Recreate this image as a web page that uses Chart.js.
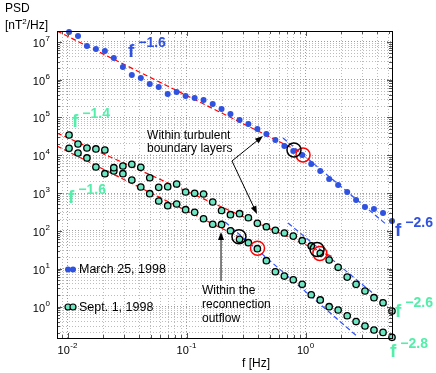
<!DOCTYPE html>
<html>
<head>
<meta charset="utf-8">
<script src="https://cdn.jsdelivr.net/npm/chart.js@4/dist/chart.umd.min.js"></script>
<style>
html, body { margin: 0; padding: 0; background: #fff; }
#wrap { width: 436px; height: 373px; }
</style>
</head>
<body>
<div id="wrap"><canvas id="psd" width="436" height="373"></canvas></div>
<script>
// frequency bins [Hz], shared by all spectra (quarter-octave steps)
const freqs = [0.0103, 0.01225, 0.01456, 0.01733, 0.0206, 0.0245, 0.0292, 0.0347, 0.0413, 0.0491,
  0.0584, 0.0695, 0.0826, 0.0983, 0.117, 0.139, 0.166, 0.197, 0.234, 0.279,
  0.331, 0.394, 0.469, 0.558, 0.664, 0.789, 0.938, 1.117, 1.33, 1.58,
  1.88, 2.24, 2.66, 3.16, 3.76, 4.48, 5.33];

// PSD [nT^2/Hz]
const psdMarch25 = [1.83e7, 1.43e7, 7.8e6, 6.5e6, 5.7e6, 3.75e6, 2.17e6, 1.33e6, 1.11e6, 7.7e5,
  6.4e5, 4.19e5, 4.73e5, 3.71e5, 3.28e5, 2.90e5, 2.28e5, 1.68e5, 1.24e5, 8.6e4,
  6.7e4, 4.97e4, 3.66e4, 2.54e4, 1.76e4, 1.30e4, 1.02e4, 5.9e3, 3.85e3, 2.36e3,
  1.64e3, 1.07e3, 656, 429, 379, 298, 183];
const psdSept1Upper = [3.44e4, 1.99e4, 1.56e4, 1.47e4, 1.38e4, 4.70e3, 5.21e3, 5.78e3, 4.82e3, 2.55e3,
  1.42e3, 1.48e3, 1.74e3, 1.07e3, 988, 946, 582, 347, 268, 285,
  223, 159, 129, 104, 88, 73, 55, 40, 25.5, 17.0,
  10.9, 6.0, 3.86, 2.57, 1.71, 1.26, 0.76];
const psdSept1Lower = [1.53e4, 1.15e4, 8.5e3, 4.90e3, 3.26e3, 3.85e3, 3.26e3, 2.22e3, 1.45e3, 964,
  618, 464, 515, 364, 310, 210, 150, 148, 101, 60,
  48.8, 33.8, 16.3, 8.3, 6.4, 5.1, 3.87, 2.05, 1.49, 0.99,
  0.81, 0.57, 0.40, 0.305, 0.239, 0.207, 0.153];

// power-law fits (end points)
const fitMarchLowF = [0.00816, 0.935],  fitMarchLowP = [1.94e7, 1.15e4];
const fitMarchHighF = [0.647, 4.84],    fitMarchHighP = [2.87e4, 143];
const fitUpperLowF = [0.00816, 1.70],   fitUpperLowP = [3.89e4, 20.4];
const fitUpperHighF = [0.713, 4.84],    fitUpperHighP = [162, 1.10];
const fitLowerLowF = [0.00816, 0.310],  fitLowerLowP = [1.76e4, 57.4];
const fitLowerHighF = [0.211, 2.76],    fitLowerHighP = [172, 0.156];

// highlighted points (rings)
const blackRingF = [0.80, 0.276, 1.25],  blackRingP = [1.38e4, 70, 32.2];
const redRingF = [0.953, 0.395, 1.32],   redRingP = [1.02e4, 34.7, 25.2];

// slope labels
const slopeExp = ['\u22121.6', '\u22121.4', '\u22121.6', '\u22122.6', '\u22122.6', '\u22122.8'];
const slopeF = [0.0322, 0.0109, 0.0101, 5.65, 5.65, 5.13];
const slopeP = [4.0e6, 5.6e4, 547, 73, 0.53, 0.046];
const slopeSeries = ['march', 'sept', 'sept', 'march', 'sept', 'sept'];

const legendLabels = ['March 25, 1998', 'Sept. 1, 1998'];
const xTitle = 'f [Hz]';
const yTitle = ['PSD', '[nT', '2', '/Hz]'];
const xRange = [0.00816, 5.33];
const yRange = [0.147, 1.94e7];

const BLUE = '#2f52e0';
const GREEN = '#6ee6c2';
const GREEN_TXT = '#52eeaa';
const FONT = '"Liberation Sans", Arial, Helvetica, sans-serif';

function pts(xs, ys) {
    return xs.map((v, i) => ({x: v, y: ys[i]}));
}

function logTicks(min, max) {
    const out = [];
    for (let e = Math.floor(Math.log10(min)); e <= Math.ceil(Math.log10(max)); e++) {
        for (let m = 1; m <= 9; m++) {
            const v = m * Math.pow(10, e);
            if (v >= min && v <= max) out.push({value: v, major: m === 1});
        }
    }
    return out;
}

function fitLine(xs, ys, color) {
    return {
        data: pts(xs, ys), showLine: true, borderColor: color, borderWidth: 1.2,
        borderDash: [5, 3], pointRadius: 0, fill: false, order: 3
    };
}

function ring(xs, ys, color) {
    return {
        data: pts(xs, ys), pointRadius: 7, pointBorderWidth: 1.5,
        pointBorderColor: color, pointBackgroundColor: 'rgba(0,0,0,0)', clip: false, order: 1
    };
}

// "10^n" / "f^-1.6" style text
function powerText(ctx, base, exp, x, y, o) {
    ctx.font = o.baseFont;
    const wb = ctx.measureText(base).width;
    ctx.font = o.expFont;
    const we = ctx.measureText(exp).width;
    const w = wb + o.gap + we;
    let left = x;
    if (o.align === 'center') left = x - w / 2;
    else if (o.align === 'right') left = x - w;
    ctx.fillStyle = o.color;
    ctx.textAlign = 'left';
    ctx.textBaseline = 'alphabetic';
    ctx.font = o.baseFont;
    ctx.fillText(base, left, y);
    ctx.font = o.expFont;
    ctx.fillText(exp, left + wb + o.gap, y - o.rise);
}

function arrow(ctx, x1, y1, x2, y2) {
    const ang = Math.atan2(y2 - y1, x2 - x1);
    ctx.beginPath();
    ctx.moveTo(x1, y1);
    ctx.lineTo(x2 - 5 * Math.cos(ang), y2 - 5 * Math.sin(ang));
    ctx.stroke();
    ctx.beginPath();
    ctx.moveTo(x2, y2);
    ctx.lineTo(x2 - 8 * Math.cos(ang) + 3 * Math.sin(ang), y2 - 8 * Math.sin(ang) - 3 * Math.cos(ang));
    ctx.lineTo(x2 - 8 * Math.cos(ang) - 3 * Math.sin(ang), y2 - 8 * Math.sin(ang) + 3 * Math.cos(ang));
    ctx.closePath();
    ctx.fill();
}

const decor = {
    id: 'decor',
    afterDraw(chart) {
        const {ctx, chartArea: a, scales: {x, y}} = chart;
        ctx.save();

        // inward tick marks
        ctx.strokeStyle = '#555';
        ctx.lineWidth = 1;
        ctx.beginPath();
        x.ticks.forEach(t => {
            const px = Math.round(x.getPixelForValue(t.value)) + 0.5;
            const len = t.major ? 5 : 3;
            ctx.moveTo(px, a.bottom); ctx.lineTo(px, a.bottom - len);
            ctx.moveTo(px, a.top); ctx.lineTo(px, a.top + len);
        });
        y.ticks.forEach(t => {
            const py = Math.round(y.getPixelForValue(t.value)) + 0.5;
            const len = t.major ? 5 : 3;
            ctx.moveTo(a.left, py); ctx.lineTo(a.left + len, py);
            ctx.moveTo(a.right, py); ctx.lineTo(a.right - len, py);
        });
        ctx.stroke();

        // axes box
        ctx.strokeStyle = '#000';
        ctx.strokeRect(Math.round(a.left) + 0.5, Math.round(a.top) + 0.5,
            Math.round(a.width), Math.round(a.height));

        // tick labels
        const tickOpt = {baseFont: '11px ' + FONT, expFont: '8px ' + FONT, gap: 0.5, rise: 6.5, color: '#000'};
        x.ticks.filter(t => t.major).forEach(t => {
            const e = Math.round(Math.log10(t.value));
            powerText(ctx, '10', String(e), x.getPixelForValue(t.value), a.bottom + 16,
                Object.assign({align: 'center'}, tickOpt));
        });
        y.ticks.filter(t => t.major).forEach(t => {
            const e = Math.round(Math.log10(t.value));
            powerText(ctx, '10', String(e), a.left - 7, y.getPixelForValue(t.value) + 5,
                Object.assign({align: 'right'}, tickOpt, {rise: 6}));
        });

        // axis titles
        ctx.fillStyle = '#000';
        ctx.textAlign = 'center';
        ctx.font = '12px ' + FONT;
        ctx.fillText(xTitle, a.left + 199, 367);
        ctx.textAlign = 'left';
        ctx.fillText(yTitle[0], 5, 12);
        let tx = 5;
        ctx.fillText(yTitle[1], tx, 29);
        tx += ctx.measureText(yTitle[1]).width;
        ctx.font = '8px ' + FONT;
        ctx.fillText(yTitle[2], tx, 24);
        tx += ctx.measureText(yTitle[2]).width;
        ctx.font = '12px ' + FONT;
        ctx.fillText(yTitle[3], tx, 29);

        // slope labels
        slopeExp.forEach((ex, i) => {
            powerText(ctx, 'f', ex, x.getPixelForValue(slopeF[i]), y.getPixelForValue(slopeP[i]), {
                baseFont: 'bold 19px ' + FONT, expFont: 'bold 14px ' + FONT, gap: 4, rise: 9.5,
                color: slopeSeries[i] === 'march' ? BLUE : GREEN_TXT, align: 'left'
            });
        });

        // annotations
        ctx.fillStyle = '#000';
        ctx.strokeStyle = '#000';
        ctx.lineWidth = 1;
        ctx.font = '12px ' + FONT;
        ctx.textAlign = 'left';
        const t1x = x.getPixelForValue(0.0466), t1y = y.getPixelForValue(2.7e4);
        ctx.fillText('Within turbulent', t1x, t1y);
        ctx.fillText('boundary layers', t1x, t1y + 13);
        const t2x = x.getPixelForValue(0.135), t2y = y.getPixelForValue(2.08);
        ctx.fillText('Within the', t2x, t2y);
        ctx.fillText('reconnection', t2x, t2y + 14);
        ctx.fillText('outflow', t2x, t2y + 28);

        const ax = x.getPixelForValue(0.241), ay = y.getPixelForValue(7.07e3);
        arrow(ctx, ax, ay, x.getPixelForValue(0.439), y.getPixelForValue(3.24e4));
        arrow(ctx, ax, ay, x.getPixelForValue(0.391), y.getPixelForValue(280));
        const bx = x.getPixelForValue(0.195);
        arrow(ctx, bx, y.getPixelForValue(4.73), bx, y.getPixelForValue(93.5));

        // legend inside the axes
        const rows = [{label: legendLabels[0], fill: BLUE, edge: null, dy: 238.5},
                      {label: legendLabels[1], fill: GREEN, edge: '#000', dy: 276}];
        rows.forEach(r => {
            const ry = a.top + r.dy;
            [a.left + 11, a.left + 16].forEach(cx => {
                ctx.beginPath();
                ctx.arc(cx, ry, 3, 0, Math.PI * 2);
                ctx.fillStyle = r.fill;
                ctx.fill();
                if (r.edge) { ctx.strokeStyle = r.edge; ctx.lineWidth = 1.2; ctx.stroke(); }
            });
            ctx.fillStyle = '#000';
            ctx.font = '12.5px ' + FONT;
            ctx.textBaseline = 'middle';
            ctx.fillText(r.label, a.left + 22, ry + 0.5);
            ctx.textBaseline = 'alphabetic';
        });

        ctx.restore();
    }
};

const gridOpts = {
    drawTicks: false,
    lineWidth: 1,
    color: c => (c.tick && c.tick.major) ? '#9c9c9c' : '#bcbcbc',
    borderDash: [1, 2]
};

new Chart(document.getElementById('psd'), {
    type: 'scatter',
    data: {
        datasets: [
            ring(blackRingF, blackRingP, '#000'),
            ring(redRingF, redRingP, '#f00'),
            {
                label: legendLabels[0], data: pts(freqs, psdMarch25), pointRadius: 3,
                pointBackgroundColor: BLUE, pointBorderWidth: 0, clip: false, order: 2
            },
            {
                label: legendLabels[1], data: pts(freqs, psdSept1Upper), pointRadius: 3.2,
                pointBackgroundColor: GREEN, pointBorderColor: '#000', pointBorderWidth: 1.3, clip: false, order: 2
            },
            {
                label: legendLabels[1], data: pts(freqs, psdSept1Lower), pointRadius: 3.2,
                pointBackgroundColor: GREEN, pointBorderColor: '#000', pointBorderWidth: 1.3, clip: false, order: 2
            },
            fitLine(fitMarchLowF, fitMarchLowP, '#ff0000'),
            fitLine(fitMarchHighF, fitMarchHighP, '#2f52ff'),
            fitLine(fitUpperLowF, fitUpperLowP, '#ff0000'),
            fitLine(fitUpperHighF, fitUpperHighP, '#2f52ff'),
            fitLine(fitLowerLowF, fitLowerLowP, '#ff0000'),
            fitLine(fitLowerHighF, fitLowerHighP, '#2f52ff')
        ]
    },
    options: {
        responsive: false,
        animation: false,
        devicePixelRatio: 1,
        layout: {padding: {left: 57, top: 31, right: 44, bottom: 35}},
        plugins: {legend: {display: false}, tooltip: {enabled: false}},
        scales: {
            x: {
                type: 'logarithmic', min: xRange[0], max: xRange[1], bounds: 'data',
                ticks: {display: false},
                grid: gridOpts,
                border: {display: false, dash: [1, 2]},
                afterBuildTicks: s => { s.ticks = logTicks(s.min, s.max); }
            },
            y: {
                type: 'logarithmic', min: yRange[0], max: yRange[1], bounds: 'data',
                ticks: {display: false},
                grid: gridOpts,
                border: {display: false, dash: [1, 2]},
                afterBuildTicks: s => { s.ticks = logTicks(s.min, s.max); }
            }
        }
    },
    plugins: [decor]
});
</script>
</body>
</html>
